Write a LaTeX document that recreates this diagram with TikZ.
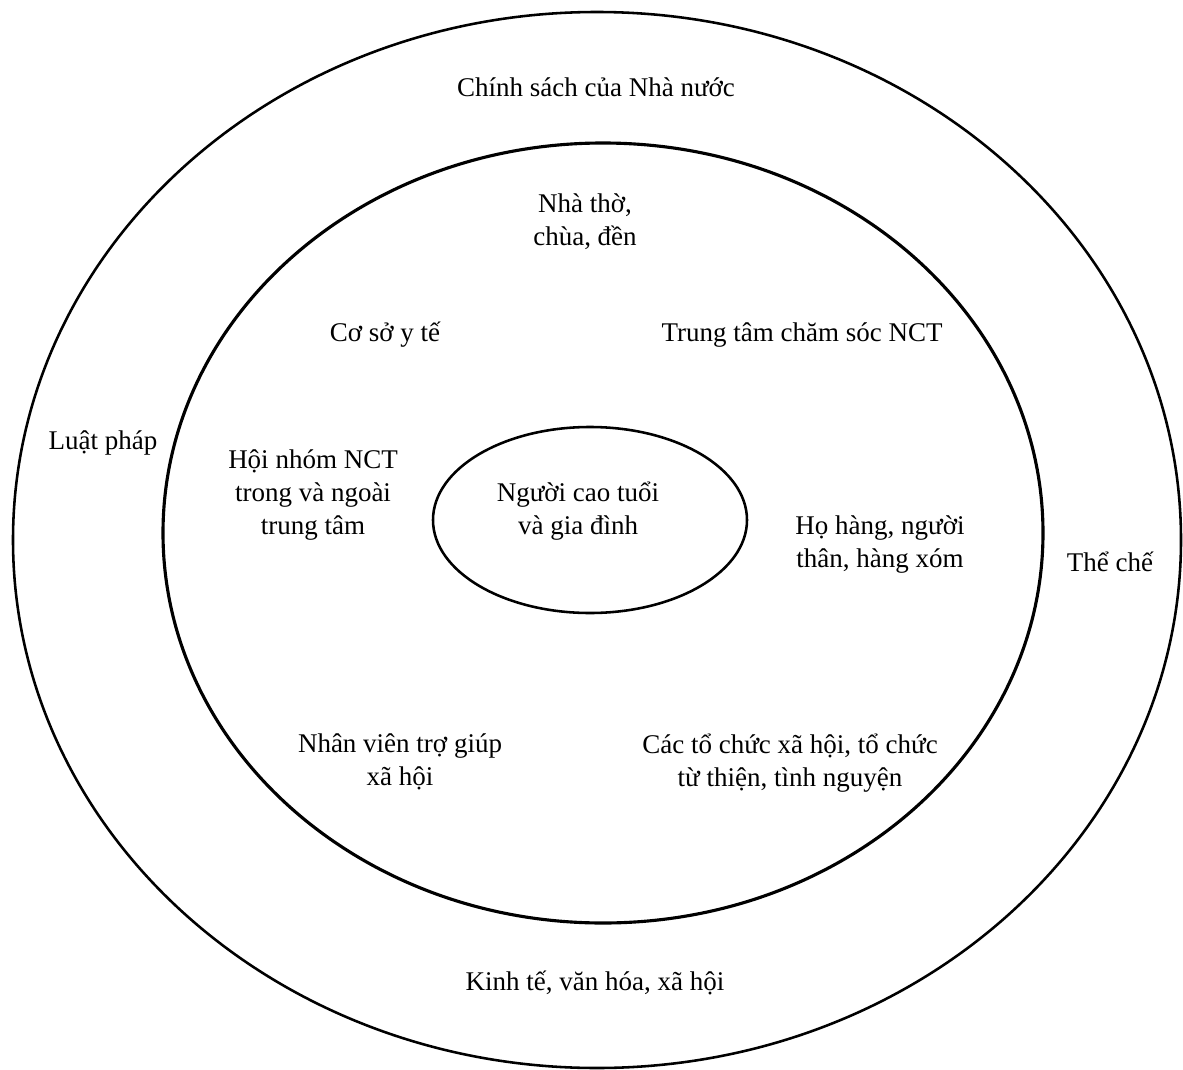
\documentclass[tikz,border=0pt]{standalone}
\usepackage{fontspec}
\setmainfont{Liberation Serif}
\usetikzlibrary{calc}
\tikzset{
	lbl/.style={align=center, inner sep=0pt, font=\fontsize{13.5}{16.5}\selectfont},
	ring/.style={line width=0.5mm, color=black}
}

\begin{document}
\begin{tikzpicture}[x=0.5pt, y=-0.5pt]
		%%%%% START %%%%%
		
		\useasboundingbox (0, 0) rectangle (1183, 1070);
		
		\draw[ring, line width=0.45mm] (597, 540) ellipse (584 and 528);
		\draw[ring, line width=0.55mm] (603, 533) ellipse (440 and 390);
		\draw[ring, line width=0.45mm] (590, 520) ellipse (157 and 93);
		
		\node[lbl] (policy) at (596, 87) {Chính sách của Nhà nước};
		\node[lbl] (law) at (103, 443) {Luật pháp};
		\node[lbl] (inst) at (1110, 562) {Thể chế};
		\node[lbl] (econ) at (595, 983) {Kinh tế, văn hóa, xã hội};
		
		\node[lbl] (church) at (585, 222) {Nhà thờ,\\chùa, đền};
		\node[lbl] (health) at (385, 335) {Cơ sở y tế};
		\node[lbl] (center) at (802, 335) {Trung tâm chăm sóc NCT};
		\node[lbl] (group) at (313, 495) {Hội nhóm NCT\\trong và ngoài\\trung tâm};
		\node[lbl] (kin) at (880, 545) {Họ hàng, người\\thân, hàng xóm};
		\node[lbl] (staff) at (400, 762) {Nhân viên trợ giúp\\xã hội};
		\node[lbl] (charity) at (790, 763) {Các tổ chức xã hội, tổ chức\\từ thiện, tình nguyện};
		
		\node[lbl] (elder) at (578, 511) {Người cao tuổi\\và gia đình};
		
		%%%%% END %%%%%
	\end{tikzpicture}
\end{document}
